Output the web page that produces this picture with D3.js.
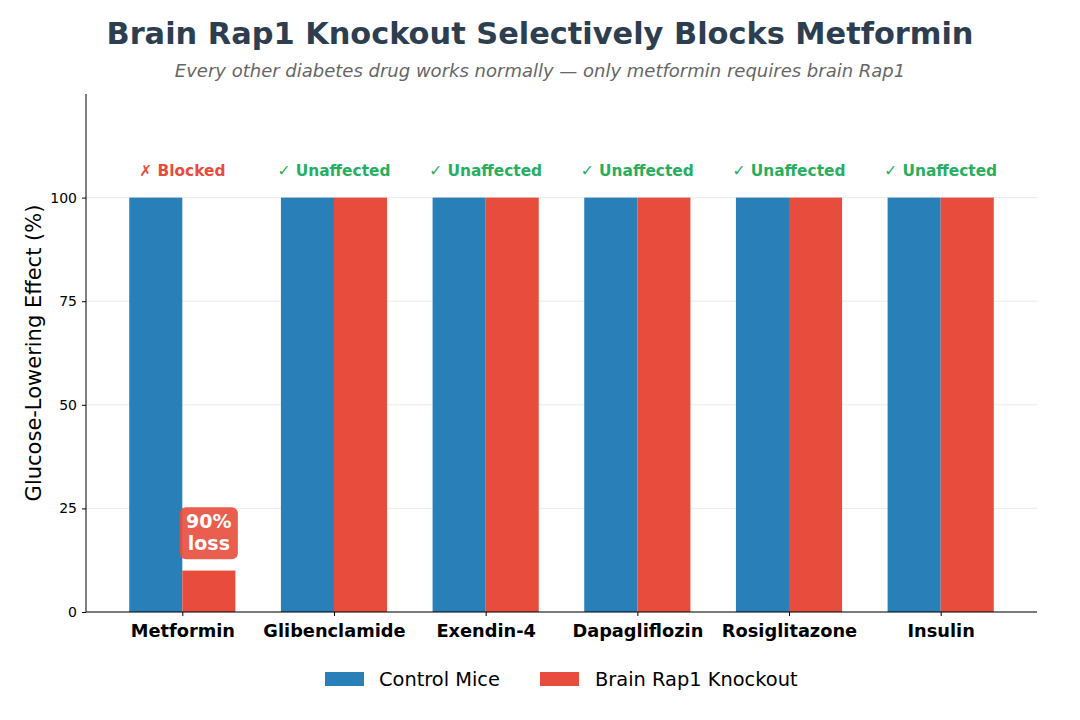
<!DOCTYPE html>
<html>
<head>
<meta charset="utf-8">
<script src="https://cdn.jsdelivr.net/npm/d3@7"></script>
<style>
  body { margin: 0; background: #fff; }
  svg { font-family: "DejaVu Sans", sans-serif; }
</style>
</head>
<body>
<div class="canva"></div>
<script>
const drugs = ["Metformin", "Glibenclamide", "Exendin-4", "Dapagliflozin", "Rosiglitazone", "Insulin"]
const control = [100, 100, 100, 100, 100, 100]
const knockout = [10, 100, 100, 100, 100, 100]
const statusLabels = ["✗ Blocked", "✓ Unaffected", "✓ Unaffected", "✓ Unaffected", "✓ Unaffected", "✓ Unaffected"]
const yTicks = [0, 25, 50, 75, 100]

const blue = "#2980b9", red = "#e74c3c", green = "#27ae60"

const svg = d3.select(".canva").append("svg")
  .attr("width", 1080).attr("height", 720)

const pLeft = 86, pRight = 1037, pTop = 94, pBottom = 612
const barW = 0.35

// matplotlib style numeric x axis
const x = d3.scaleLinear().domain([-0.635, drugs.length - 1 + 0.635]).range([pLeft, pRight])
const y = d3.scaleLinear().domain([0, 125]).range([pBottom, pTop])
const unit = x(1) - x(0)

// grid
svg.append("g").selectAll("line").data(yTicks).enter().append("line")
  .attr("x1", pLeft).attr("x2", pRight)
  .attr("y1", d => y(d)).attr("y2", d => y(d))
  .attr("stroke", "#e6e6e6").attr("stroke-width", 0.8)

// bars
svg.append("g").selectAll("rect").data(control).enter().append("rect")
  .attr("x", (d, i) => x(i - barW))
  .attr("width", barW * unit)
  .attr("y", d => y(d))
  .attr("height", d => y(0) - y(d))
  .attr("fill", blue)

svg.append("g").selectAll("rect").data(knockout).enter().append("rect")
  .attr("x", (d, i) => x(i))
  .attr("width", barW * unit)
  .attr("y", d => y(d))
  .attr("height", d => y(0) - y(d))
  .attr("fill", red)

// status labels
svg.append("g").selectAll("text").data(statusLabels).enter().append("text")
  .attr("x", (d, i) => x(i))
  .attr("y", y(105) - 1)
  .attr("text-anchor", "middle")
  .attr("font-size", 15.4).attr("font-weight", "bold")
  .attr("fill", (d, i) => i === 0 ? red : green)
  .text(d => d)

// 90% loss box
const lossX = x(barW / 2), lossY = y(19)
svg.append("rect")
  .attr("x", lossX - 29).attr("y", lossY - 26)
  .attr("width", 58).attr("height", 52)
  .attr("rx", 6).attr("ry", 6)
  .attr("fill", red).attr("fill-opacity", 0.9)
svg.append("text")
  .attr("x", lossX).attr("y", lossY - 5)
  .attr("text-anchor", "middle")
  .attr("font-size", 19).attr("font-weight", "bold").attr("fill", "#fff")
  .text("90%")
svg.append("text")
  .attr("x", lossX).attr("y", lossY + 17)
  .attr("text-anchor", "middle")
  .attr("font-size", 19).attr("font-weight", "bold").attr("fill", "#fff")
  .text("loss")

// axes
const yAxis = svg.append("g")
  .attr("transform", `translate(${pLeft},0)`)
  .call(d3.axisLeft(y).tickValues(yTicks).tickSize(4).tickPadding(5))
yAxis.select(".domain").attr("d", `M0,${pBottom}V${pTop}`)
yAxis.selectAll("text").attr("font-size", 14).attr("fill", "#000").attr("font-family", "DejaVu Sans")

const xAxis = svg.append("g")
  .attr("transform", `translate(0,${pBottom})`)
  .call(d3.axisBottom(x).tickValues(d3.range(drugs.length)).tickFormat(i => drugs[i]).tickSize(4).tickPadding(8))
xAxis.select(".domain").attr("d", `M${pLeft},0H${pRight}`)
xAxis.selectAll("text").attr("font-size", 17.8).attr("font-weight", "bold")
  .attr("fill", "#000").attr("font-family", "DejaVu Sans")

svg.append("text")
  .attr("transform", `translate(41,${(pTop + pBottom) / 2}) rotate(-90)`)
  .attr("text-anchor", "middle")
  .attr("font-size", 21)
  .text("Glucose-Lowering Effect (%)")

// titles
svg.append("text").attr("x", 540).attr("y", 44)
  .attr("text-anchor", "middle")
  .attr("font-size", 30.4).attr("font-weight", "bold").attr("fill", "#2c3e50")
  .text("Brain Rap1 Knockout Selectively Blocks Metformin")
svg.append("text").attr("x", 540).attr("y", 77)
  .attr("text-anchor", "middle")
  .attr("font-size", 18).attr("font-style", "italic").attr("fill", "#666")
  .text("Every other diabetes drug works normally — only metformin requires brain Rap1")

// legend
const legend = [["Control Mice", blue], ["Brain Rap1 Knockout", red]]
const lg = svg.append("g")
lg.selectAll("rect").data(legend).enter().append("rect")
  .attr("x", (d, i) => [325, 540][i]).attr("y", 672)
  .attr("width", 39).attr("height", 14)
  .attr("fill", d => d[1])
lg.selectAll("text").data(legend).enter().append("text")
  .attr("x", (d, i) => [379, 595][i]).attr("y", 686)
  .attr("font-size", 19.4)
  .text(d => d[0])
</script>
</body>
</html>
